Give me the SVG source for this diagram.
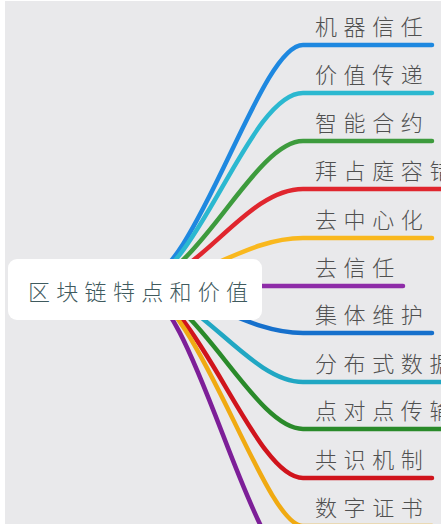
<svg xmlns="http://www.w3.org/2000/svg" width="441" height="524" viewBox="0 0 441 524">
<style>
.br{fill:none;stroke-width:4.5;stroke-linecap:round;stroke-linejoin:round}
.lbl{font-family:"Noto Sans CJK SC","Noto Sans",sans-serif;font-size:22px;letter-spacing:6.6px;fill:#505050;font-weight:300}
.ctr{font-family:"Noto Sans CJK SC","Noto Sans",sans-serif;font-size:22px;letter-spacing:6.3px;fill:#3f5a5e;font-weight:300}
</style>
<rect x="0" y="0" width="441" height="524" fill="#ffffff"/>
<rect x="5" y="1" width="436" height="523" fill="#e9e9eb"/>
<g id="connectors">
<path class="br" stroke="#1e88e0" d="M135,286 C195,286 258,45 303,45 L432,45"/>
<path class="br" stroke="#2bb8d0" d="M135,286 C195,286 248,93 303,93 L432,93"/>
<path class="br" stroke="#3d9b3d" d="M135,286 C195,286 253,141 303,141 L432,141"/>
<path class="br" stroke="#e0262e" d="M135,286 C197,286 243,189 303,189 L446,189"/>
<path class="br" stroke="#f9b81e" d="M135,286 C195,286 243,238 303,238 L432,238"/>
<path class="br" stroke="#8e2ca8" d="M135,286 L403,286"/>
<path class="br" stroke="#1670cc" d="M135,286 C195,286 243,333 303,333 L432,333"/>
<path class="br" stroke="#21a7c3" d="M135,286 C195,286 248,382 303,382 L446,382"/>
<path class="br" stroke="#2a8a2a" d="M135,286 C195,286 253,429 303,429 L446,429"/>
<path class="br" stroke="#d0141c" d="M135,286 C195,286 253,478 303,478 L432,478"/>
<path class="br" stroke="#f0aa12" d="M135,286 C195,286 263,526 303,526 L432,526"/>
<path class="br" stroke="#7d1f98" d="M135,286 C195,286 248,573 303,573 L403,573"/>
</g>
<g id="center">
<rect x="8" y="259" width="254" height="61" rx="9" fill="#ffffff"/>
<text class="ctr" x="28" y="300">区块链特点和价值</text>
</g>
<g id="n1"><text class="lbl" x="315" y="35">机器信任</text></g>
<g id="n2"><text class="lbl" x="315" y="83">价值传递</text></g>
<g id="n3"><text class="lbl" x="315" y="131">智能合约</text></g>
<g id="n4"><text class="lbl" x="315" y="179">拜占庭容错</text></g>
<g id="n5"><text class="lbl" x="315" y="228">去中心化</text></g>
<g id="n6"><text class="lbl" x="315" y="276">去信任</text></g>
<g id="n7"><text class="lbl" x="315" y="323">集体维护</text></g>
<g id="n8"><text class="lbl" x="315" y="372">分布式数据</text></g>
<g id="n9"><text class="lbl" x="315" y="419">点对点传输</text></g>
<g id="n10"><text class="lbl" x="315" y="468">共识机制</text></g>
<g id="n11"><text class="lbl" x="315" y="516">数字证书</text></g>
</svg>
